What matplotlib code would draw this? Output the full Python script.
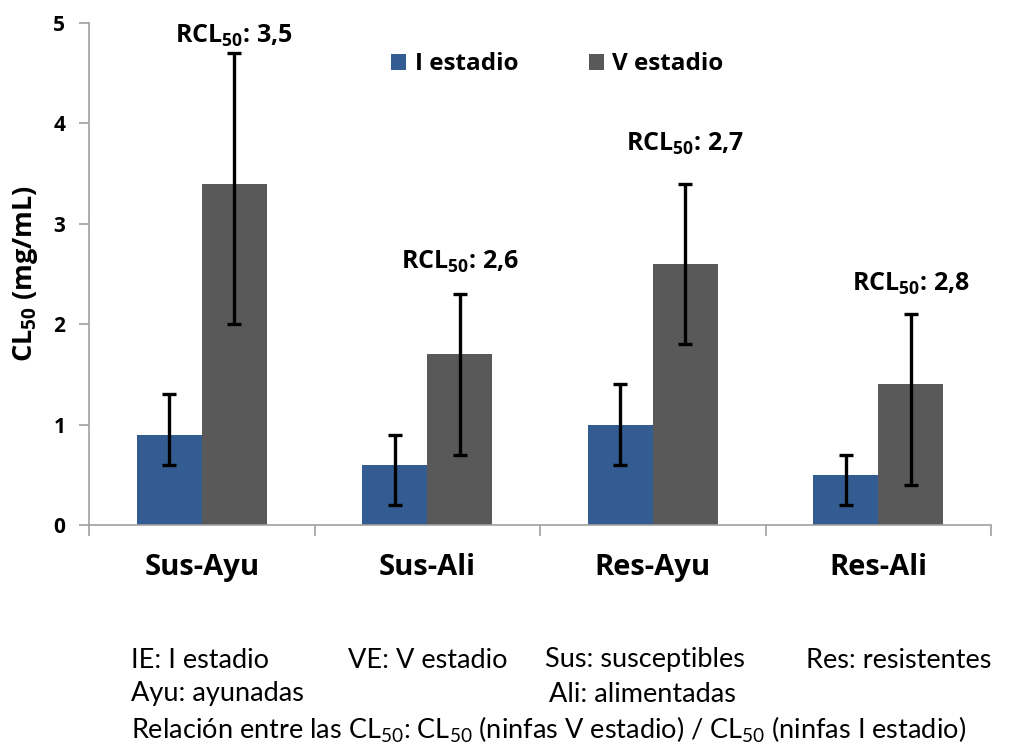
import matplotlib
matplotlib.use("Agg")
import matplotlib.pyplot as plt
import numpy as np

plt.rcParams['font.family'] = ['Open Sans', 'DejaVu Sans']
plt.rcParams['mathtext.default'] = 'regular'

# CL50 values (mg/mL) with lower / upper confidence limits
grupos = ['Sus-Ayu', 'Sus-Ali', 'Res-Ayu', 'Res-Ali']
cl50_I = [0.9, 0.6, 1.0, 0.5]
inf_I = [0.6, 0.2, 0.6, 0.2]
sup_I = [1.3, 0.9, 1.4, 0.7]
cl50_V = [3.4, 1.7, 2.6, 1.4]
inf_V = [2.0, 0.7, 1.8, 0.4]
sup_V = [4.7, 2.3, 3.4, 2.1]
rcl = ['3,5', '2,6', '2,7', '2,8']
rcl_y = [4.87, 2.62, 3.8, 2.4]

azul = '#335C92'
gris = '#595959'
eje = '#A0A0A0'

fig = plt.figure(figsize=(10.15, 7.46), dpi=100)
ax = fig.add_axes([0.0877, 0.2962, 0.8887, 0.6730])

x = np.arange(len(grupos))
w = 0.288

cl50_I = np.array(cl50_I)
cl50_V = np.array(cl50_V)
err_I = [cl50_I - np.array(inf_I), np.array(sup_I) - cl50_I]
err_V = [cl50_V - np.array(inf_V), np.array(sup_V) - cl50_V]

ax.bar(x - w / 2, cl50_I, w, color=azul, label='I estadio', zorder=2)
ax.bar(x + w / 2, cl50_V, w, color=gris, label='V estadio', zorder=2)
ax.errorbar(x - w / 2, cl50_I, yerr=err_I, fmt='none', ecolor='black',
            elinewidth=2.4, capsize=5, capthick=2.4, zorder=3)
ax.errorbar(x + w / 2, cl50_V, yerr=err_V, fmt='none', ecolor='black',
            elinewidth=2.4, capsize=5, capthick=2.4, zorder=3)

for xi, r, yy in zip(x, rcl, rcl_y):
    ax.text(xi + w / 2, yy, 'RCL$_{50}$: ' + r, ha='center', va='center',
            fontsize=18, fontweight='bold', zorder=4)

ax.set_xlim(-0.5, len(grupos) - 0.5)
ax.set_ylim(0, 5)
ax.set_yticks(range(6))
ax.set_yticklabels([str(v) for v in range(6)], fontsize=15, fontweight='bold')
ax.set_xticks(np.arange(len(grupos) + 1) - 0.5)
ax.set_xticklabels([])
ax.set_xticks(x, minor=True)
ax.set_xticklabels(grupos, minor=True, fontsize=21, fontweight='bold')
ax.tick_params(axis='x', which='minor', length=0, pad=20)
ax.tick_params(axis='x', which='major', length=8, color=eje, width=1.2)
ax.tick_params(axis='y', length=7, color=eje, width=1.2, pad=10)

for s in ['top', 'right']:
    ax.spines[s].set_visible(False)
for s in ['left', 'bottom']:
    ax.spines[s].set_color(eje)
    ax.spines[s].set_linewidth(1.2)

ax.set_ylabel('CL$_{50}$ (mg/mL)', fontsize=19.5, fontweight='bold', labelpad=10)

ax.legend(loc='upper center', bbox_to_anchor=(0.519, 0.985), ncol=2, frameon=False,
          prop={'size': 17.5, 'weight': 'bold'}, handlelength=0.62, handleheight=0.62,
          handletextpad=0.35, columnspacing=2.9)

# footnotes
nota = dict(fontsize=19.5, va='center', ha='left', family=['Lato', 'DejaVu Sans'])
fig.text(0.129, 1 - 660 / 746, 'IE: I estadio', **nota)
fig.text(0.343, 1 - 660 / 746, 'VE: V estadio', **nota)
fig.text(0.537, 1 - 660 / 746, 'Sus: susceptibles', **nota)
fig.text(0.794, 1 - 660 / 746, 'Res: resistentes', **nota)
fig.text(0.129, 1 - 694 / 746, 'Ayu: ayunadas', **nota)
fig.text(0.541, 1 - 694 / 746, 'Ali: alimentadas', **nota)
fig.text(0.129, 1 - 730 / 746,
         'Relación entre las CL$_{50}$: CL$_{50}$ (ninfas V estadio) / CL$_{50}$ (ninfas I estadio)',
         **nota)

fig.savefig('out.png', dpi=100)
